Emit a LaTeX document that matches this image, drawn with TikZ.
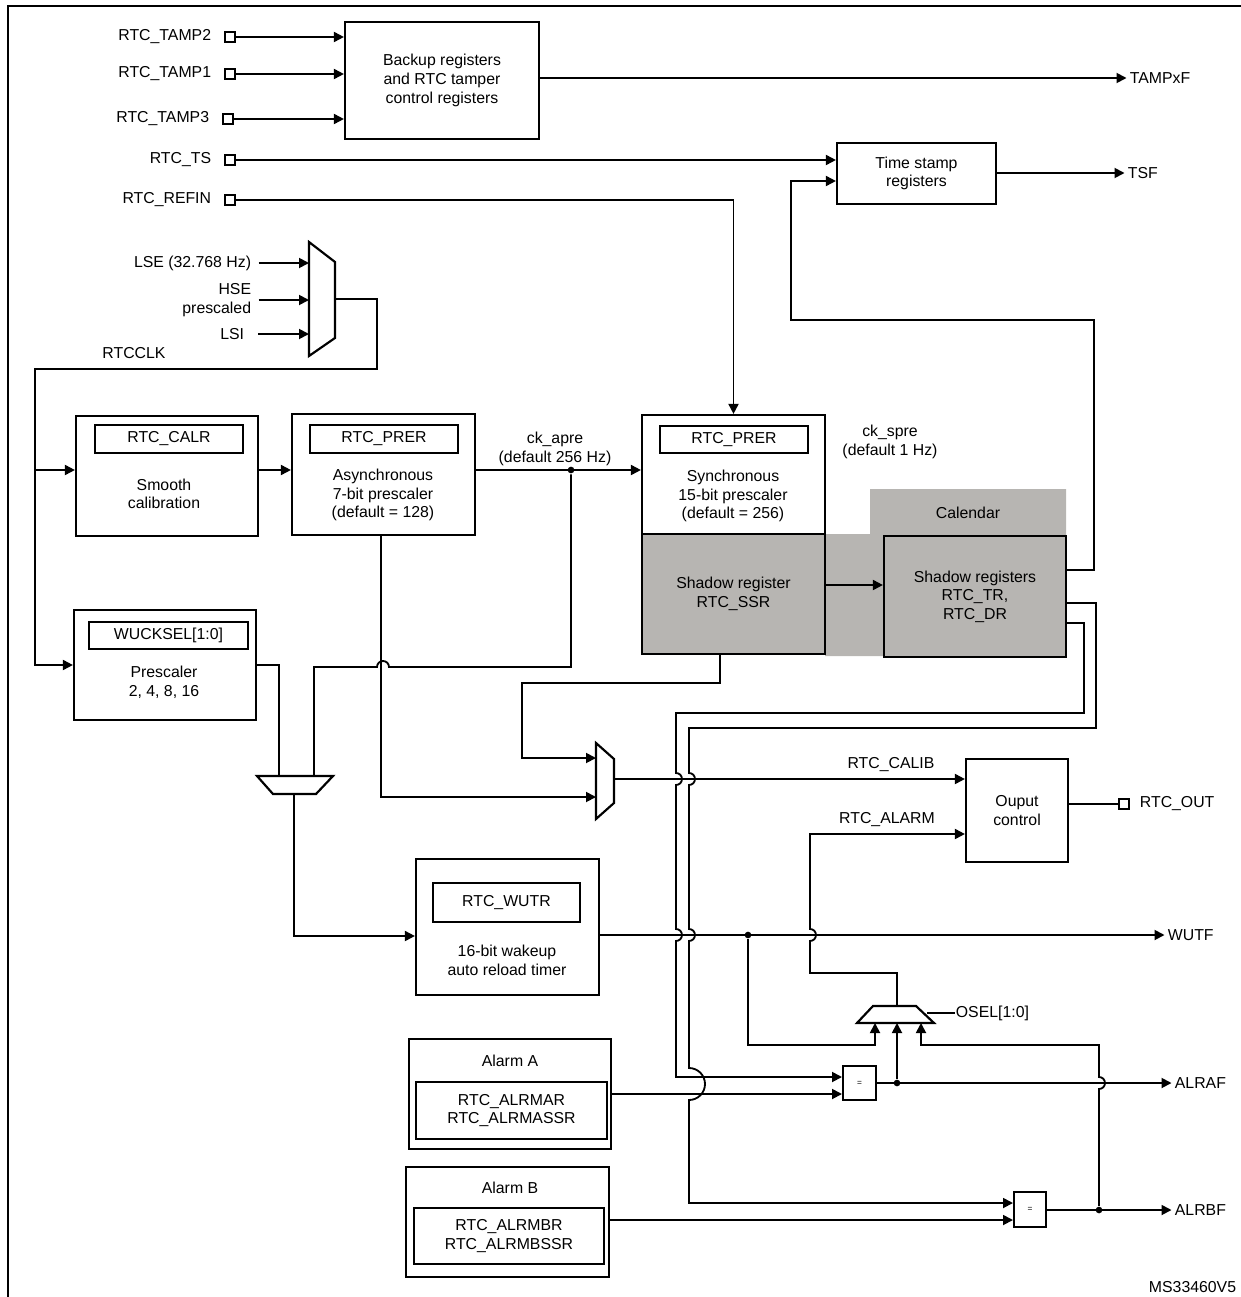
\documentclass[tikz,border=0pt]{standalone}
\usepackage{fontspec}
\setmainfont{Liberation Sans}
\usetikzlibrary{arrows.meta}
\definecolor{calgray}{RGB}{183,181,178}
\begin{document}
\begin{tikzpicture}[x=0.6pt,y=-0.6pt,line width=1.1pt,
  >={Triangle[length=6pt,width=6pt]},
  font=\fontsize{9.5}{11.2}\selectfont,
  blk node/.style 2 args={draw,line width=1.3pt,minimum width=#1*0.6pt,minimum height=#2*0.6pt,inner sep=0pt},
  txt node/.style={inner sep=0pt,align=center},
  pin node/.style={draw,line width=1.2pt,minimum size=6.3pt,inner sep=0pt},
  dot node/.style={circle,fill,inner sep=0pt,minimum size=4pt},
  eq node/.style 2 args={draw,line width=1.2pt,minimum width=#1*0.6pt,minimum height=#2*0.6pt,inner sep=0pt,font=\fontsize{5}{6}\selectfont}]

  \useasboundingbox (0,0) rectangle (1240,1297);
  \draw[line width=1.5pt] (8,1310) -- (8,6) -- (1250,6);

  % input pins
  \node[pin node] (tamp2) at (230,37) {};
  \node[pin node] (tamp1) at (230,74) {};
  \node[pin node] (tamp3) at (228,119) {};
  \node[pin node] (ts) at (230,160) {};
  \node[pin node] (refin) at (230,200) {};
  \node[txt node,anchor=east] (tamp2l) at (212,37) {RTC\_TAMP2};
  \node[txt node,anchor=east] (tamp1l) at (212,74) {RTC\_TAMP1};
  \node[txt node,anchor=east] (tamp3l) at (210,119) {RTC\_TAMP3};
  \node[txt node,anchor=east] (tsl) at (212,160) {RTC\_TS};
  \node[txt node,anchor=east] (refinl) at (212,200) {RTC\_REFIN};

  \node[blk node={194}{117},align=center] (bkp) at (442,80.5) {Backup registers\\and RTC tamper\\control registers};
  \node[txt node,anchor=west] (tampf) at (1129,78) {TAMPxF};
  \node[blk node={159}{61},align=center] (tsr) at (916.5,173.5) {Time stamp\\registers};
  \node[txt node,anchor=west] (tsf) at (1127,173) {TSF};

  \draw[->] (tamp2) -- (tamp2 -| bkp.west);
  \draw[->] (tamp1) -- (tamp1 -| bkp.west);
  \draw[->] (tamp3) -- (tamp3 -| bkp.west);
  \draw[->] (bkp.east |- tampf) -- ([xshift=-1.5pt]tampf.west);
  \draw[->] (ts) -- (ts -| tsr.west);
  \draw[->] (tsr.east |- tsf) -- ([xshift=-1.5pt]tsf.west);

  % clock source
  \draw[line width=1.3pt] (309,242) -- (335,262) -- (335,338) -- (309,356) -- cycle;
  \coordinate (ckmux) at (309,300);
  \coordinate (ckout) at (335,299);
  \node[txt node,anchor=east] (lse) at (252,263) {LSE (32.768 Hz)};
  \node[txt node,anchor=east,align=right] (hse) at (252,300) {HSE\\prescaled};
  \node[txt node,anchor=east] (lsi) at (245,334) {LSI};
  \node[txt node] (rtcclk) at (134,353) {RTCCLK};
  \draw[->] ([xshift=4pt]lse.east) -- (lse.east -| ckmux);
  \draw[->] ([xshift=4pt]hse.east) -- (hse.east -| ckmux);
  \draw[->] ([xshift=8pt]lsi.east) -- (lsi.east -| ckmux);

  % prescalers
  \node[blk node={182}{120}] (cal) at (167,476) {};
  \node[blk node={148}{28}] (calr) at (169,439) {RTC\_CALR};
  \node[txt node] (calt) at (164,494) {Smooth\\calibration};
  \node[blk node={183}{121}] (apre) at (383.5,474.5) {};
  \node[blk node={148}{28}] (aprer) at (384,439) {RTC\_PRER};
  \node[txt node] (apret) at (383,495) {Asynchronous\\7-bit prescaler\\(default = 128)};
  \node[blk node={182}{110}] (wuck) at (165,665) {};
  \node[blk node={159}{27}] (wucks) at (168.5,635.5) {WUCKSEL[1:0]};
  \node[txt node] (wuckt) at (164,682) {Prescaler\\2, 4, 8, 16};
  \coordinate (calin) at (35,470);

  \draw[->] (ckout) -| (377,369) -- (35,369) |- (wuck.west);
  \draw[->] (calin) -- (calin -| cal.west);
  \draw[->] (cal.east |- calin) -- (apre.west |- calin);

  % calendar
  \fill[calgray] (870,489) -- (1066,489) -- (1066,656) -- (825,656) -- (825,534) -- (870,534) -- cycle;
  \node[txt node] (calnd) at (968,513) {Calendar};
  \node[blk node={183}{119},fill=white] (spre) at (733.5,474.5) {};
  \node[blk node={148}{27}] (sprer) at (734,439.5) {RTC\_PRER};
  \node[txt node] (spret) at (733,496) {Synchronous\\15-bit prescaler\\(default = 256)};
  \node[blk node={183}{120},fill=calgray,align=center] (ssr) at (733.5,594) {Shadow register\\RTC\_SSR};
  \node[blk node={182}{121},fill=calgray,align=center] (shd) at (975,596.5) {Shadow registers\\RTC\_TR,\\RTC\_DR};
  \node[txt node] (spl) at (890,442) {ck\_spre\\(default 1 Hz)};
  \node[txt node] (apl) at (555,449) {ck\_apre\\(default 256 Hz)};
  \node[dot node] (apdot) at (571,470) {};

  \draw[->] (refin) -| (spre.north);
  \draw[->] (apre.east |- calin) -- (spre.west |- calin);
  \draw[->] (ssr.east |- 0,585) -- (shd.west |- 0,585);
  \draw[->] (shd.east |- 0,570) -| (1094,320) -| (791,181) -- (tsr.west |- 0,181);

  % wakeup
  \draw[line width=1.3pt] (257,776) -- (333,776) -- (316,794) -- (273,794) -- cycle;
  \coordinate (wmux) at (294,794);
  \node[blk node={183}{136}] (wutr) at (507.5,927) {};
  \node[blk node={147}{39}] (wutrr) at (506.5,902.5) {RTC\_WUTR};
  \node[txt node] (wutrt) at (507,960) {16-bit wakeup\\auto reload timer};
  \node[txt node,anchor=west] (wutf) at (1167,935) {WUTF};

  \draw (wuck.east) -| (279,776);
  \draw (apdot) -- (571,667) -- (389,667) arc (0:-180:6) -- (314,667) -- (314,776);
  \draw[->] (wmux) |- (wutr.west |- 0,936);
  \draw[->] (wutr.east |- wutf) -- ([xshift=-1.5pt]wutf.west);
  \node[dot node] (wdot) at (748,935) {};

  % calibration output
  \draw[line width=1.3pt] (596,743) -- (614,759) -- (614,803) -- (596,819) -- cycle;
  \coordinate (cmux) at (596,779);
  \coordinate (cout) at (614,779);
  \node[blk node={102}{103},align=center] (outc) at (1017,810.5) {Ouput\\control};
  \node[pin node] (rtcout) at (1124,804) {};
  \node[txt node,anchor=west] (rtcoutl) at (1139,804) {RTC\_OUT};
  \node[txt node,anchor=south] (calib) at (891,773) {RTC\_CALIB};
  \node[txt node,anchor=south] (alarm) at (887,828) {RTC\_ALARM};

  \draw[->] (apre.south -| 381,0) -- (381,797) -- (cmux |- 0,797);
  \draw[->] (ssr.south -| 720,0) -- (720,683) -- (522,683) -- (522,758) -- (cmux |- 0,758);
  \draw[->] (cout) -- (outc.west |- cout);
  \draw (outc.east |- rtcout) -- (rtcout);

  % alarms
  \node[blk node={202}{110}] (alma) at (510,1094) {};
  \node[txt node] (almat) at (510,1061) {Alarm A};
  \node[blk node={191}{57},align=center] (almar) at (511.5,1110.5) {RTC\_ALRMAR\\RTC\_ALRMASSR};
  \node[blk node={203}{110}] (almb) at (507.5,1222) {};
  \node[txt node] (almbt) at (510,1188) {Alarm B};
  \node[blk node={190}{56},align=center] (almbr) at (509,1236) {RTC\_ALRMBR\\RTC\_ALRMBSSR};
  \node[eq node={33}{34}] (eqa) at (859.5,1083) {=};
  \node[eq node={32}{35}] (eqb) at (1030,1209.5) {=};
  \node[txt node,anchor=west] (alraf) at (1174,1083) {ALRAF};
  \node[txt node,anchor=west] (alrbf) at (1174,1210) {ALRBF};
  \node[dot node] (adot) at (897,1083) {};
  \node[dot node] (bdot) at (1099,1210) {};

  \draw[->] (alma.east |- 0,1094) -- (eqa.west |- 0,1094);
  \draw[->] (almb.east |- 0,1220) -- (eqb.west |- 0,1220);
  \draw[->] (eqa.east |- alraf) -- ([xshift=-1.5pt]alraf.west);
  \draw[->] (eqb.east |- alrbf) -- ([xshift=-1.5pt]alrbf.west);

  % shadow register buses
  \draw[->] (shd.east |- 0,623) -- (1084,623) -- (1084,713) -- (676,713) -- (676,773) arc (-90:90:6) -- (676,929) arc (-90:90:6) -- (676,1077) -- (eqa.west |- 0,1077);
  \draw[->] (shd.east |- 0,603) -- (1096,603) -- (1096,728) -- (689,728) -- (689,773) arc (-90:90:6) -- (689,929) arc (-90:90:6) -- (689,1068) arc (-90:90:16) -- (689,1203) -- (eqb.west |- 0,1203);

  % output select
  \draw[line width=1.3pt] (873,1006) -- (916,1006) -- (934,1023) -- (857,1023) -- cycle;
  \coordinate (omux) at (897,1006);
  \node[txt node,anchor=west] (osel) at (955,1013) {OSEL[1:0]};
  \draw (927,1013) -- (osel.west);
  \draw[->] (omux) -- (897,973) -- (810,973) -- (810,941) arc (90:-90:6) -- (810,834) -- (outc.west |- 0,834);
  \draw[->] (wdot) -- (748,1045) -- (875,1045) -- (875,1023);
  \draw[->] (adot) -- (897,1023);
  \draw[->] (bdot) -- (1099,1089) arc (90:-90:6) -- (1099,1045) -- (921,1045) -- (921,1023);

  \node[txt node,anchor=east] (msid) at (1237,1287) {MS33460V5};
\end{tikzpicture}
\end{document}
